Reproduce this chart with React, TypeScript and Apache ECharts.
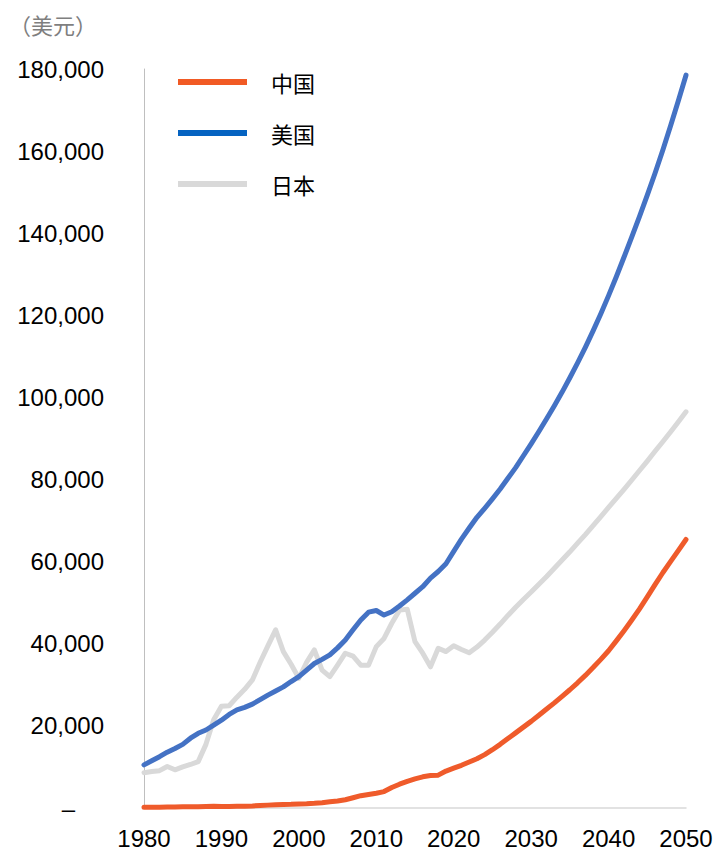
import React, { useEffect, useRef } from "react";
import * as echarts from "echarts";

const years: number[] = [];
for (let y = 1980; y <= 2050; y++) years.push(y);

// 人均GDP（美元，千）
const china = [
  0.2, 0.2, 0.2, 0.25, 0.25, 0.3, 0.3, 0.3, 0.35, 0.4,
  0.35, 0.35, 0.4, 0.45, 0.5, 0.6, 0.7, 0.8, 0.85, 0.9,
  1.0, 1.05, 1.15, 1.3, 1.5, 1.7, 2.0, 2.5, 3.0, 3.3,
  3.6, 4.0, 5.0, 5.8, 6.5, 7.1, 7.6, 7.9, 8.0, 9.0,
  9.7, 10.4, 11.2, 12.0, 13.0, 14.2, 15.5, 16.9, 18.3, 19.7,
  21.1, 22.6, 24.1, 25.6, 27.2, 28.8, 30.5, 32.3, 34.2, 36.2,
  38.3, 40.7, 43.2, 45.8, 48.5, 51.4, 54.4, 57.3, 60.0, 62.7,
  65.4,
];
const usa = [
  10.5, 11.5, 12.5, 13.6, 14.5, 15.5, 17.0, 18.2, 19.0, 20.2,
  21.4, 22.8, 23.9, 24.5, 25.3, 26.4, 27.5, 28.5, 29.5, 30.8,
  32.0, 33.6, 35.2, 36.2, 37.3, 39.0, 40.9, 43.4, 45.8, 47.7,
  48.1, 47.0, 47.8, 49.2, 50.7, 52.3, 53.9, 56.0, 57.6, 59.5,
  62.5, 65.5, 68.2, 70.8, 73.0, 75.3, 77.7, 80.3, 82.9, 85.8,
  88.7, 91.7, 94.8, 98.0, 101.3, 104.8, 108.4, 112.2, 116.2, 120.4,
  124.8, 129.4, 134.2, 139.1, 144.1, 149.3, 154.6, 160.2, 166.1, 172.2,
  178.5,
];
const japan = [
  8.6, 8.9, 9.1, 10.1, 9.3, 10.0, 10.6, 11.3, 15.5, 21.5,
  24.8, 24.9, 27.0, 28.9, 31.2, 35.5, 39.5, 43.4, 38.1, 35.0,
  31.6, 35.5, 38.5, 33.6, 32.0, 34.8, 37.7, 37.0, 34.8, 34.8,
  39.3, 41.3, 45.0, 48.2, 48.4, 40.5, 37.7, 34.4, 38.9, 38.1,
  39.5, 38.6, 37.8, 39.2, 40.9, 42.8, 44.8, 46.9, 48.9, 50.8,
  52.6, 54.5, 56.4, 58.4, 60.4, 62.4, 64.5, 66.6, 68.8, 71.0,
  73.2, 75.4, 77.6, 79.9, 82.2, 84.5, 86.9, 89.2, 91.6, 94.0,
  96.5,
];

const seriesNames = ["中国", "美国", "日本"];
const lineColors = ["#EF5B2B", "#4472C4", "#D9D9D9"];
const legendColors = ["#F15A24", "#0563C1", "#D9D9D9"];
const unitLabel = "（美元）";

const toPairs = (vals: number[]) => vals.map((v, i) => [years[i], v * 1000]);

export default function App() {
  const ref = useRef<HTMLDivElement>(null);
  useEffect(() => {
    if (!ref.current) return;
    const chart = echarts.init(ref.current, null, { renderer: "svg" });
    const allData = [china, usa, japan];
    chart.setOption({
      animation: false,
      backgroundColor: "#ffffff",
      title: {
        text: unitLabel,
        left: 4,
        top: 8,
        textStyle: {
          fontSize: 22,
          fontWeight: "normal",
          color: "#7F7F7F",
          fontFamily: "Noto Sans CJK SC",
        },
      },
      legend: {
        orient: "vertical",
        left: 173,
        top: 65,
        itemWidth: 69,
        itemHeight: 6,
        itemGap: 27,
        textStyle: {
          fontSize: 22,
          lineHeight: 24,
          color: "#000",
          fontFamily: "Noto Sans CJK SC",
          padding: [0, 0, 0, 19],
        },
        data: seriesNames.map((n, i) => ({
          name: n,
          icon: "rect",
          itemStyle: { color: legendColors[i] },
        })),
      },
      grid: { left: 144, right: 34, top: 69, bottom: 45, containLabel: false },
      xAxis: {
        type: "value",
        min: 1980,
        max: 2050,
        interval: 10,
        axisLine: { show: true, lineStyle: { color: "#D9D9D9", width: 1.5 } },
        axisTick: { show: false },
        splitLine: { show: false },
        axisLabel: {
          fontSize: 24,
          color: "#000",
          fontFamily: "Liberation Sans",
          margin: 18,
          formatter: (v: number) => String(v),
        },
      },
      yAxis: {
        type: "value",
        min: 0,
        max: 180000,
        interval: 20000,
        axisLine: { show: true, lineStyle: { color: "#BFBFBF", width: 1 } },
        axisTick: { show: false },
        splitLine: { show: false },
        axisLabel: {
          fontSize: 24,
          color: "#000",
          fontFamily: "Liberation Sans",
          margin: 40,
          formatter: (v: number) =>
            v === 0 ? "{d|–}" : v.toLocaleString("en-US"),
          rich: {
            d: { fontSize: 24, color: "#000", padding: [0, 29, 0, 0], fontFamily: "Liberation Sans" },
          },
        },
      },
      series: seriesNames.map((n, i) => ({
        name: n,
        type: "line",
        data: toPairs(allData[i]),
        showSymbol: false,
        symbol: "none",
        smooth: false,
        z: i === 2 ? 1 : i === 1 ? 2 : 3,
        lineStyle: { color: lineColors[i], width: 5, cap: "round", join: "round" },
        itemStyle: { color: lineColors[i] },
      })),
    });
    return () => chart.dispose();
  }, []);
  return (
    <div
      ref={ref}
      style={{ position: "fixed", left: 0, top: 0, width: 720, height: 853 }}
    />
  );
}
